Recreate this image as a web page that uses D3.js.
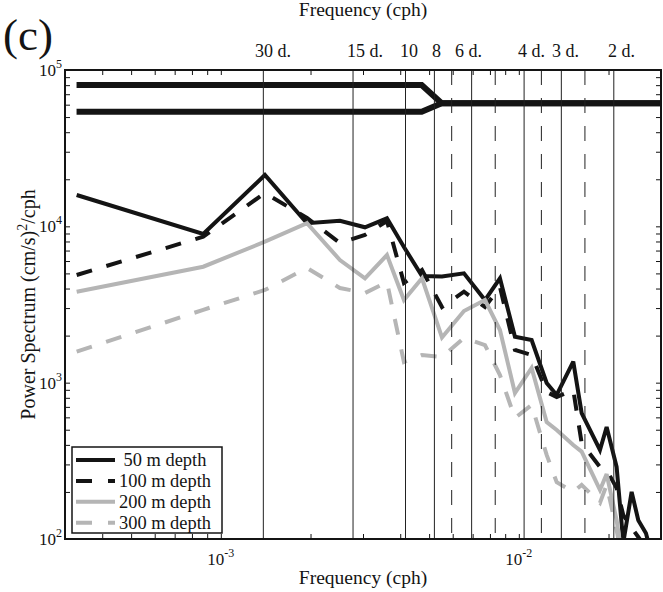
<!DOCTYPE html>
<html>
<head>
<meta charset="utf-8">
<script src="https://cdn.jsdelivr.net/npm/d3@7/dist/d3.min.js"></script>
<style>
  html, body { margin: 0; padding: 0; background: #fff; }
  svg { display: block; }
  text { font-family: "Liberation Serif", "DejaVu Serif", serif; }
  .pre { white-space: pre; }
</style>
</head>
<body>
<svg id="chart" width="663" height="592"></svg>
<script>
// Frequency bins of the spectral estimates (cph)
const freq = [3.283e-4, 8.73e-4, 1.406e-3, 1.946e-3, 2.510e-3, 3.046e-3, 3.610e-3, 4.116e-3,
  4.732e-3, 5.522e-3, 6.545e-3, 7.698e-3, 8.643e-3, 9.705e-3, 0.01104, 0.01240, 0.01340,
  0.01523, 0.01625, 0.01872, 0.01971, 0.02129, 0.02242, 0.02391, 0.02517, 0.02671, 0.02819];

// Power spectra ((cm/s)^2/cph) at each depth; null where the estimate is off scale
const depth50 = [15860, 8930, 21300, 10460, 10860, 9860, 11260, 7375, 4812, 4776, 5007, 3378,
  4651, 1968, 1875, 995, 834, 1362, 639, 371, 520, 289, 95, 200, 132, 109, 73];
const depth100 = [4884, 8585, 16340, 11310, 7824, 8800, 10820, 4340, 5256, 3048, 3817, 3048,
  4093, 1618, 1503, 872, 810, 898, 411, 289, 276, 212, 142, 118, 103, 87.6, 68];
const depth200 = [3817, 5518, 7975, 10460, 6090, 4651, 6554, 3378, 4651, 1945, 2873, 3378,
  2172, 859, 1241, 560, 498, 399, 362, 206, 260, 132, 68, null, null, null, null];
const depth300 = [1578, 2924, 3914, 5412, 4032, 3746, 4404, 1356, 1503, 1459, 1930, 1741,
  1119, 594, 720, 345, 231, 200, 222, 170, 222, 114, 68, null, null, null, null];

const seriesNames = [" 50 m depth", "100 m depth", "200 m depth", "300 m depth"];

// Confidence-interval bar drawn across the top
const ciFreq = [3.28e-4, 4.72e-3, 5.51e-3, 3.0e-2];
const ciUpper = [80170, 80170, 61240, 61240];
const ciLower = [54120, 54120, 61240, 61240];

// Reference periods (days): solid and dashed vertical lines
const solidPeriods = [30, 15, 10, 8, 6, 4, 3, 2];
const dashedPeriods = [7, 5, 3.5, 2.5];
// Top annotations and the frequency at which each label starts
const periodLabels = ["30 d.", "15 d.", "10", "8", "6 d.", "4 d.", "3 d.", "2 d."];
const periodLabelFreq = [1.302e-3, 2.651e-3, 3.993e-3, 5.111e-3, 6.106e-3, 9.934e-3, 0.01292, 0.01991];

const xDomain = [3e-4, 3e-2];
const yDomain = [1e2, 1e5];
const xMajor = [1e-3, 1e-2];
const yMajor = [1e2, 1e3, 1e4, 1e5];

// ---- layout ----
const L = 65, R = 661, T = 70, B = 539;
const FONT = "Liberation Serif, DejaVu Serif, serif";
const svg = d3.select("#chart").attr("font-family", FONT);
const x = d3.scaleLog().domain(xDomain).range([L, R]);
const y = d3.scaleLog().domain(yDomain).range([B, T]);

const black = "#141414", gray = "#b5b5b5";
const styles = [
  { color: black, dash: null },
  { color: black, dash: "16,15" },
  { color: gray, dash: null },
  { color: gray, dash: "16,15" }
];

svg.append("defs").append("clipPath").attr("id", "plotClip")
  .append("rect").attr("x", L).attr("y", T).attr("width", R - L).attr("height", B - T);

const plot = svg.append("g").attr("clip-path", "url(#plotClip)");

// confidence bar
const ciLine = d3.line().x((d, i) => x(ciFreq[i])).y(d => y(d));
[ciUpper, ciLower].forEach(arr => {
  plot.append("path").attr("d", ciLine(arr)).attr("fill", "none")
    .attr("stroke", black).attr("stroke-width", 6).attr("stroke-linejoin", "miter");
});

// spectra
const specLine = d3.line().defined(d => d != null).x((d, i) => x(freq[i])).y(d => y(d));
[depth50, depth100, depth200, depth300].forEach((arr, k) => {
  const p = plot.append("path").attr("d", specLine(arr)).attr("fill", "none")
    .attr("stroke", styles[k].color).attr("stroke-width", 4)
    .attr("stroke-linejoin", "miter").attr("stroke-miterlimit", 3);
  if (styles[k].dash) p.attr("stroke-dasharray", styles[k].dash);
});

// vertical period lines
const toFreq = d => 1 / (d * 24);
plot.selectAll(".vsolid").data(solidPeriods).join("line")
  .attr("x1", d => x(toFreq(d))).attr("x2", d => x(toFreq(d)))
  .attr("y1", T).attr("y2", B).attr("stroke", "#222").attr("stroke-width", 1);
plot.selectAll(".vdash").data(dashedPeriods).join("line")
  .attr("x1", d => x(toFreq(d))).attr("x2", d => x(toFreq(d)))
  .attr("y1", T).attr("y2", B).attr("stroke", "#222").attr("stroke-width", 1)
  .attr("stroke-dasharray", "15,13");

// ---- axes (box with inward ticks on all sides) ----
function logTicks(domain) {
  const out = [];
  for (let e = Math.floor(Math.log10(domain[0])); e <= Math.ceil(Math.log10(domain[1])); e++) {
    for (let m = 1; m <= 9; m++) {
      const v = m * Math.pow(10, e);
      if (v >= domain[0] * 0.999 && v <= domain[1] * 1.001) out.push(v);
    }
  }
  return out;
}
const xt = logTicks(xDomain), yt = logTicks(yDomain);
const tk = 5;
svg.append("g").attr("transform", `translate(0,${B})`)
  .call(d3.axisBottom(x).tickValues(xt).tickSize(-tk).tickFormat(""));
svg.append("g").attr("transform", `translate(0,${T})`)
  .call(d3.axisTop(x).tickValues(xt).tickSize(-tk).tickFormat(""));
svg.append("g").attr("transform", `translate(${L},0)`)
  .call(d3.axisLeft(y).tickValues(yt).tickSize(-tk).tickFormat(""));
svg.append("g").attr("transform", `translate(${R},0)`)
  .call(d3.axisRight(y).tickValues(yt).tickSize(-tk).tickFormat(""));
svg.selectAll(".domain").remove();
svg.selectAll(".tick line").attr("stroke", black).attr("stroke-width", 1);
svg.append("rect").attr("x", L).attr("y", T).attr("width", R - L).attr("height", B - T)
  .attr("fill", "none").attr("stroke", black).attr("stroke-width", 2);

// power-of-ten tick labels
function powLabel(g, v) {
  const e = Math.round(Math.log10(v));
  g.append("tspan").text("10");
  g.append("tspan").attr("dy", -8).attr("font-size", 12).text(String(e));
}
xMajor.forEach(v => {
  const t = svg.append("text").attr("x", x(v)).attr("y", B + 26)
    .attr("font-size", 17).attr("text-anchor", "middle").attr("fill", black);
  powLabel(t, v);
});
yMajor.forEach(v => {
  const t = svg.append("text").attr("x", L - 3).attr("y", y(v) + 6)
    .attr("font-size", 17).attr("text-anchor", "end").attr("fill", black);
  powLabel(t, v);
});

// period annotations above the box
periodLabels.forEach((s, i) => {
  svg.append("text").attr("x", x(periodLabelFreq[i])).attr("y", T - 13)
    .attr("font-size", 18).attr("fill", black).text(s);
});

// axis titles
svg.append("text").attr("x", (L + R) / 2).attr("y", 584).attr("text-anchor", "middle")
  .attr("font-size", 19.5).attr("fill", black).text("Frequency (cph)");
svg.append("text").attr("x", (L + R) / 2).attr("y", 16).attr("text-anchor", "middle")
  .attr("font-size", 19.5).attr("fill", black).text("Frequency (cph)");
const yl = svg.append("text").attr("transform", `translate(35,${(T + B) / 2}) rotate(-90)`)
  .attr("text-anchor", "middle").attr("font-size", 20).attr("fill", black);
yl.append("tspan").text("Power Spectrum (cm/s)");
yl.append("tspan").attr("dy", -8).attr("font-size", 14).text("2");
yl.append("tspan").attr("dy", 8).text("/cph");

svg.append("text").attr("x", 3).attr("y", 50).attr("font-size", 45).attr("fill", black).text("(c)");

// ---- legend ----
const lg = svg.append("g");
const lgX = 72, lgY = 447, lgW = 150, lgH = 86, rowH = 20.9;
lg.append("rect").attr("x", lgX).attr("y", lgY).attr("width", lgW).attr("height", lgH)
  .attr("fill", "#fff").attr("stroke", black).attr("stroke-width", 1.5);
seriesNames.forEach((name, k) => {
  const cy = lgY + 13 + k * rowH;
  const ln = lg.append("line").attr("x1", lgX + 4).attr("x2", lgX + 43)
    .attr("y1", cy).attr("y2", cy).attr("stroke", styles[k].color).attr("stroke-width", 4);
  if (styles[k].dash) ln.attr("stroke-dasharray", "16,16");
  lg.append("text").attr("class", "pre").attr("x", lgX + 47).attr("y", cy + 6)
    .attr("font-size", 18.4).attr("fill", black).text(name);
});
</script>
</body>
</html>
